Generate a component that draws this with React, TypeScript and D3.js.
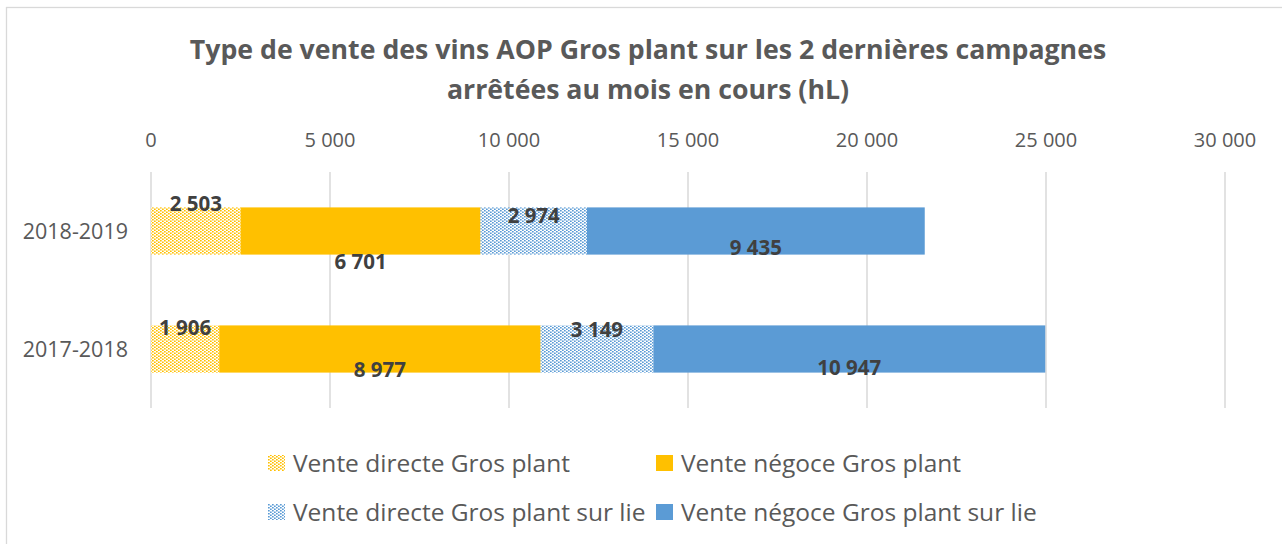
import React from "react";
import * as d3 from "d3";

const categories = ["2018-2019", "2017-2018"];
const seriesNames = [
  "Vente directe Gros plant",
  "Vente négoce Gros plant",
  "Vente directe Gros plant sur lie",
  "Vente négoce Gros plant sur lie",
];
// values per category, in series order
const values2018_2019 = [2503, 6701, 2974, 9435];
const values2017_2018 = [1906, 8977, 3149, 10947];
const xTicks = [0, 5000, 10000, 15000, 20000, 25000, 30000];
const titleLines = [
  "Type de vente des vins AOP Gros plant sur les 2 dernières campagnes",
  "arrêtées au mois en cours (hL)",
];

// style/layout constants
const W = 1282;
const H = 544;
const ORANGE = "#FFC000";
const BLUE = "#5B9BD5";
const TEXT = "#595959";
const LABEL = "#404040";
const GRID = "#D9D9D9";
const FONT = "'Open Sans', 'Noto Sans', sans-serif";
// label vertical offsets relative to bar center, per category then series
const labelDy = [
  [-27, 31, -15, 17],
  [-21, 21, -19, 19],
];

const fmt = d3.formatLocale({
  decimal: ",",
  thousands: " ",
  grouping: [3],
  currency: ["", " €"],
}).format(",d");

export default function App() {
  const x = d3.scaleLinear().domain([0, 30000]).range([151, 1225]);
  const y = d3
    .scaleBand<string>()
    .domain(categories)
    .range([172, 408])
    .paddingInner(0.6)
    .paddingOuter(0.3);

  const rows = [values2018_2019, values2017_2018];
  const stacked = rows.map((vals) => {
    let acc = 0;
    return vals.map((v) => {
      const s = acc;
      acc += v;
      return [s, acc];
    });
  });
  const fills = ["url(#dotOrange)", ORANGE, "url(#dotBlue)", BLUE];
  const legendSwatch = fills;
  const legendPos = [
    [268, 463],
    [656, 463],
    [268, 512],
    [656, 512],
  ];

  return (
    <svg
      width={W}
      height={H}
      style={{ position: "absolute", left: 0, top: 0, background: "#fff" }}
      fontFamily={FONT}
    >
      <defs>
        <pattern id="dotOrange" width={4} height={3} patternUnits="userSpaceOnUse">
          <rect x={0} y={0} width={4} height={3} fill="#fff" />
          <rect x={0} y={0} width={1.7} height={1.5} fill={ORANGE} />
          <rect x={2} y={1.5} width={1.7} height={1.5} fill={ORANGE} />
        </pattern>
        <pattern id="dotBlue" width={4} height={3} patternUnits="userSpaceOnUse">
          <rect x={0} y={0} width={4} height={3} fill="#fff" />
          <rect x={0} y={0} width={1.7} height={1.5} fill={BLUE} />
          <rect x={2} y={1.5} width={1.7} height={1.5} fill={BLUE} />
        </pattern>
      </defs>
      <rect x={0} y={0} width={W} height={H} fill="#fff" />
      <rect x={6.5} y={7.5} width={W + 10} height={H + 10} fill="none" stroke={GRID} strokeWidth={1.3} />

      {titleLines.map((t, i) => (
        <text
          key={i}
          x={648}
          y={59 + i * 40}
          textAnchor="middle"
          fontSize={26.7}
          fontWeight="bold"
          fill={TEXT}
        >
          {t}
        </text>
      ))}

      {xTicks.map((t) => (
        <g key={t}>
          <line x1={x(t)} x2={x(t)} y1={172} y2={408} stroke={GRID} strokeWidth={1.5} />
          <text x={x(t)} y={147} textAnchor="middle" fontSize={20} fill={TEXT}>
            {fmt(t)}
          </text>
        </g>
      ))}

      {categories.map((c) => (
        <text
          key={c}
          x={128}
          y={(y(c) as number) + y.bandwidth() / 2 + 7.5}
          textAnchor="end"
          fontSize={21.5}
          fill={TEXT}
        >
          {c}
        </text>
      ))}

      {categories.map((c, ci) =>
        stacked[ci].map(([s, e], si) => (
          <rect
            key={c + si}
            x={x(s)}
            y={y(c) as number}
            width={x(e) - x(s)}
            height={y.bandwidth()}
            fill={fills[si]}
          />
        ))
      )}

      {categories.map((c, ci) =>
        stacked[ci].map(([s, e], si) => (
          <text
            key={"l" + c + si}
            x={(x(s) + x(e)) / 2}
            y={(y(c) as number) + y.bandwidth() / 2 + labelDy[ci][si] + 7}
            textAnchor="middle"
            fontSize={20.5}
            fontWeight="bold"
            fill={LABEL}
          >
            {fmt(rows[ci][si])}
          </text>
        ))
      )}

      {seriesNames.map((n, i) => (
        <g key={n}>
          <rect
            x={legendPos[i][0]}
            y={legendPos[i][1] - 8}
            width={17}
            height={16}
            fill={legendSwatch[i]}
          />
          <text x={legendPos[i][0] + 25} y={legendPos[i][1] + 8.5} fontSize={24.5} fill={TEXT}>
            {n}
          </text>
        </g>
      ))}
    </svg>
  );
}
